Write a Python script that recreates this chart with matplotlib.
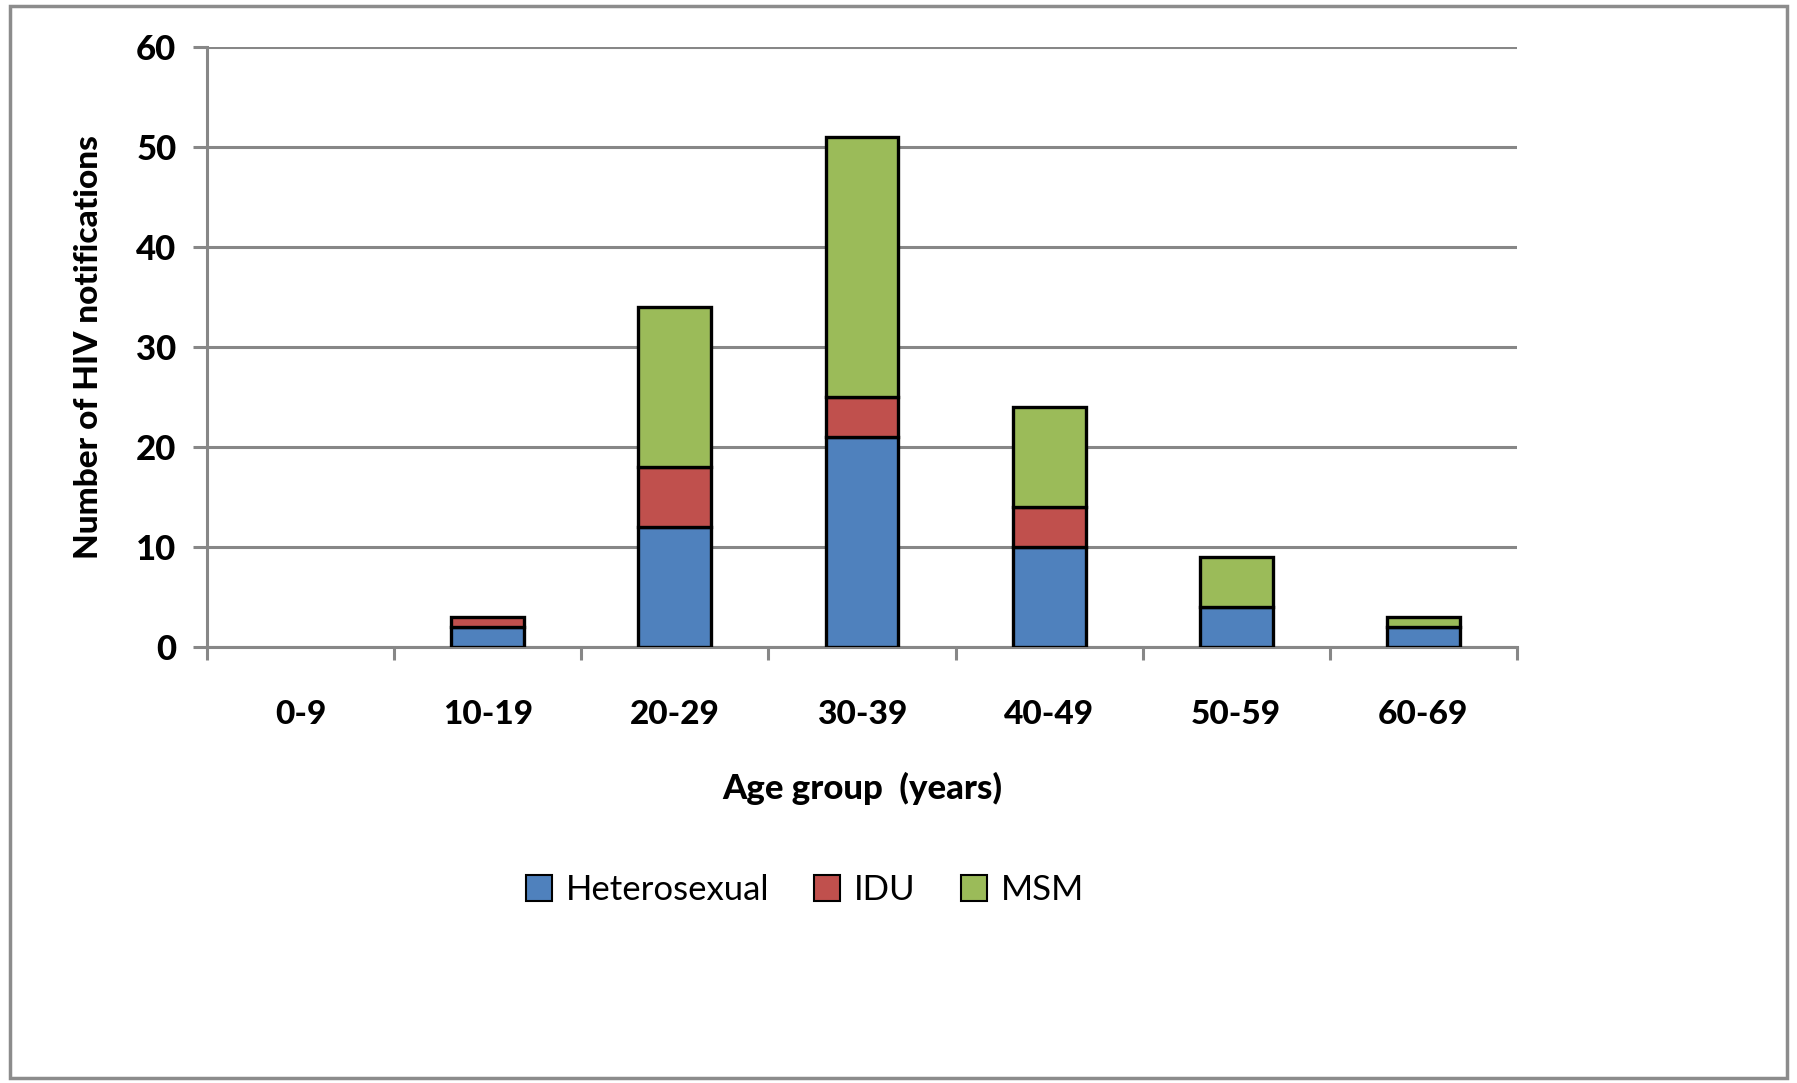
import matplotlib.pyplot as plt
import matplotlib.patches as mpatches
import numpy as np

plt.rcParams['font.family'] = ['Lato', 'DejaVu Sans']

# data
age_groups = ['0-9', '10-19', '20-29', '30-39', '40-49', '50-59', '60-69']
heterosexual = [0, 2, 12, 21, 10, 4, 2]
idu = [0, 1, 6, 4, 4, 0, 0]
msm = [0, 0, 16, 26, 10, 5, 1]

colors = ['#4F81BD', '#C0504D', '#9BBB59']
grid_col = '#878787'

fig = plt.figure(figsize=(17.97, 10.83), dpi=100)
ax = fig.add_axes([207 / 1797, 1 - 647 / 1083, 1310 / 1797, 600 / 1083])

x = np.arange(len(age_groups))
het = np.array(heterosexual)
idu_a = np.array(idu)
msm_a = np.array(msm)

w = 0.39
kw = dict(width=w, edgecolor='black', linewidth=2.4, zorder=3)
bars = []
bars += list(ax.bar(x, het, color=colors[0], label='Heterosexual', **kw))
bars += list(ax.bar(x, idu_a, bottom=het, color=colors[1], label='IDU', **kw))
bars += list(ax.bar(x, msm_a, bottom=het + idu_a, color=colors[2], label='MSM', **kw))
# hide empty segments
for b in bars:
    if b.get_height() == 0:
        b.set_visible(False)

ax.set_xlim(-0.5, len(age_groups) - 0.5)
ax.set_ylim(0, 60)
ax.set_yticks(range(0, 61, 10))
ax.set_xticks(x)
ax.set_xticklabels(age_groups)
ax.set_xticks(np.arange(-0.5, len(age_groups)), minor=True)

ax.yaxis.grid(True, color=grid_col, linewidth=2.2, zorder=0)
ax.set_axisbelow(True)
for s in ['top', 'right']:
    ax.spines[s].set_visible(False)
for s in ['left', 'bottom']:
    ax.spines[s].set_color(grid_col)
    ax.spines[s].set_linewidth(2.2)

ax.tick_params(axis='y', length=10, width=2.2, color=grid_col, pad=12,
               labelsize=25)
ax.tick_params(axis='x', which='major', length=0, pad=38, labelsize=24)
ax.tick_params(axis='x', which='minor', length=9, width=2.2, color=grid_col)
for lab in ax.get_xticklabels() + ax.get_yticklabels():
    lab.set_fontweight('black')

ax.set_ylabel('Number of HIV notifications', fontsize=24, fontweight='black',
              labelpad=24)
ax.set_xlabel('Age group  (years)', fontsize=25, fontweight='black',
              labelpad=31)

handles = [mpatches.Patch(facecolor=c, edgecolor='black', linewidth=1.5)
           for c in colors]
fig.legend(handles, ['Heterosexual', 'IDU', 'MSM'], loc='center',
           bbox_to_anchor=(805 / 1797, 1 - 890 / 1083), ncol=3,
           frameon=False, fontsize=25, handlelength=0.75, handleheight=0.75,
           handletextpad=0.4, columnspacing=1.3)

# outer chart border
fig.patches.append(mpatches.Rectangle((10 / 1797, 5 / 1083),
                                      1777 / 1797, 1072 / 1083,
                                      transform=fig.transFigure,
                                      fill=False, edgecolor='#8C8C8C',
                                      linewidth=2.5))

fig.savefig('out.png', dpi=100)
